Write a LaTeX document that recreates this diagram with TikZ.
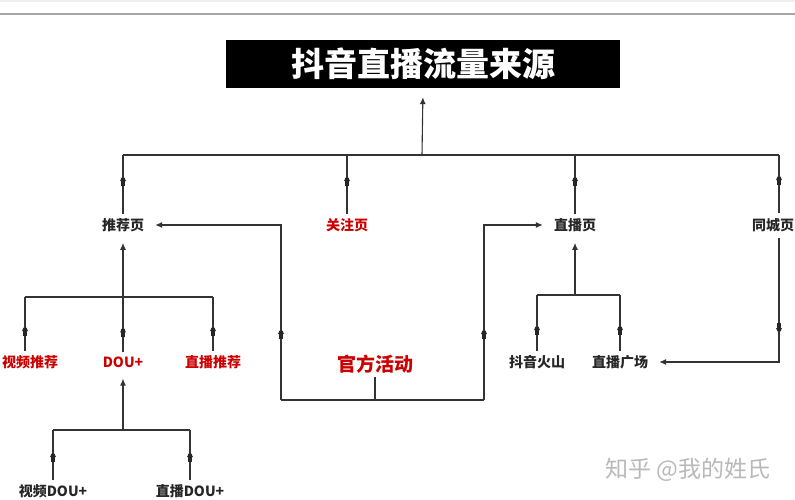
\documentclass[tikz,border=0pt]{standalone}
\usepackage{fontspec}
\setmainfont{Noto Sans CJK SC}
\usetikzlibrary{arrows.meta,decorations.markings}
\begin{document}
\begin{tikzpicture}[x=1pt,y=-1pt,
  ln/.style={draw=black!80, line width=1.1pt},
  lbl/.style={font=\bfseries\fontsize{14}{14}\selectfont, inner sep=4pt, text=black!85},
  redlbl/.style={lbl, text=red!80!black},
  tip/.style={-{Latex[length=7pt,width=6pt]}, shorten >=7pt},
  midarrow/.style={postaction={decorate}, decoration={markings, mark=at position #1 with {\arrow{Latex[length=7pt,width=6.5pt]}\fill[black!85] (-12pt,-1.6pt) rectangle (-4pt,1.6pt);}}}
]
\useasboundingbox (0,0) rectangle (795,500);
\fill[white] (0,0) rectangle (795,500);
\fill[gray!12] (0,0) rectangle (795,2);
\draw[gray!70, line width=2pt] (0,14.5) -- (795,14.5);

% title
\node[fill=black, minimum width=394pt, minimum height=48pt, inner sep=0pt, text=white,
      font=\bfseries\fontsize{33}{33}\selectfont] (title) at (423,64) {抖音直播流量来源};

% level 2
\node[lbl] (tj) at (123,225) {推荐页};
\node[redlbl] (gz) at (347,225) {关注页};
\node[lbl] (zb) at (575,225) {直播页};
\node[lbl] (tc) at (773,225) {同城页};

% level 3
\node[redlbl] (spt) at (30,362) {视频推荐};
\node[redlbl] (dou) at (123,362) {DOU+};
\node[redlbl] (zbt) at (213,362) {直播推荐};
\node[redlbl, font=\bfseries\fontsize{19}{19}\selectfont] (gf) at (375,364) {官方活动};
\node[lbl] (dyhs) at (537,362) {抖音火山};
\node[lbl] (zbgc) at (620,362) {直播广场};

% level 4
\node[lbl] (spdou) at (53,491) {视频DOU+};
\node[lbl] (zbdou) at (190,491) {直播DOU+};

% watermark
\node[text=gray!55, font=\fontsize{23}{23}\selectfont, inner sep=0pt] (wm) at (688,470) {知乎 @我的姓氏};

% top bus
\coordinate (top) at (422,155);
\coordinate (busTL) at (123,155);
\coordinate (busTR) at (779,155);
\draw[ln] (busTL) -- (busTR);
\draw[ln, -{Latex[length=7pt,width=6pt]}, shorten >=9pt] (top) -- (title.south);
\foreach \n in {tj,gz,zb}
  \draw[ln, midarrow=40pt] (\n.north) -- (\n.north |- top);
\coordinate (tcn) at (779,213);
\draw[ln, midarrow=40pt] (tcn) -- (busTR);

% under 推荐页
\coordinate (b1) at (123,297);
\coordinate (b1L) at (25,297);
\coordinate (b1R) at (213,297);
\draw[ln] (b1L) -- (b1R);
\draw[ln, tip] (b1) -- (tj.south);
\coordinate (sptn) at (25,351);
\draw[ln, midarrow=27pt] (sptn) -- (b1L);
\foreach \n in {dou,zbt}
  \draw[ln, midarrow=27pt] (\n.north) -- (\n.north |- b1);

% under DOU+
\coordinate (b2) at (123,430);
\coordinate (b2L) at (53,430);
\coordinate (b2R) at (190,430);
\draw[ln] (b2L) -- (b2R);
\draw[ln, tip] (b2) -- (dou.south);
\foreach \n in {spdou,zbdou}
  \draw[ln, midarrow=30pt] (\n.north) -- (\n.north |- b2);

% 官方活动
\coordinate (g0) at (375,400);
\coordinate (gL) at (281,400);
\coordinate (gR) at (484,400);
\draw[ln] (gf.south) -- (g0);
\draw[ln] (gL) -- (gR);
\draw[ln, midarrow=73pt, tip] (gL) |- (tj.east);
\draw[ln, midarrow=73pt, tip] (gR) |- (zb.west);

% under 直播页
\coordinate (b3) at (575,295);
\coordinate (b3L) at (537,295);
\coordinate (b3R) at (620,295);
\draw[ln] (b3L) -- (b3R);
\draw[ln, tip] (b3) -- (zb.south);
\foreach \n in {dyhs,zbgc}
  \draw[ln, midarrow=28pt] (\n.north) -- (\n.north |- b3);

% 同城页 -> 直播广场
\coordinate (tcs) at (779,238);
\draw[ln, midarrow=97pt, tip] (tcs) |- (zbgc.east);
\end{tikzpicture}
\end{document}
